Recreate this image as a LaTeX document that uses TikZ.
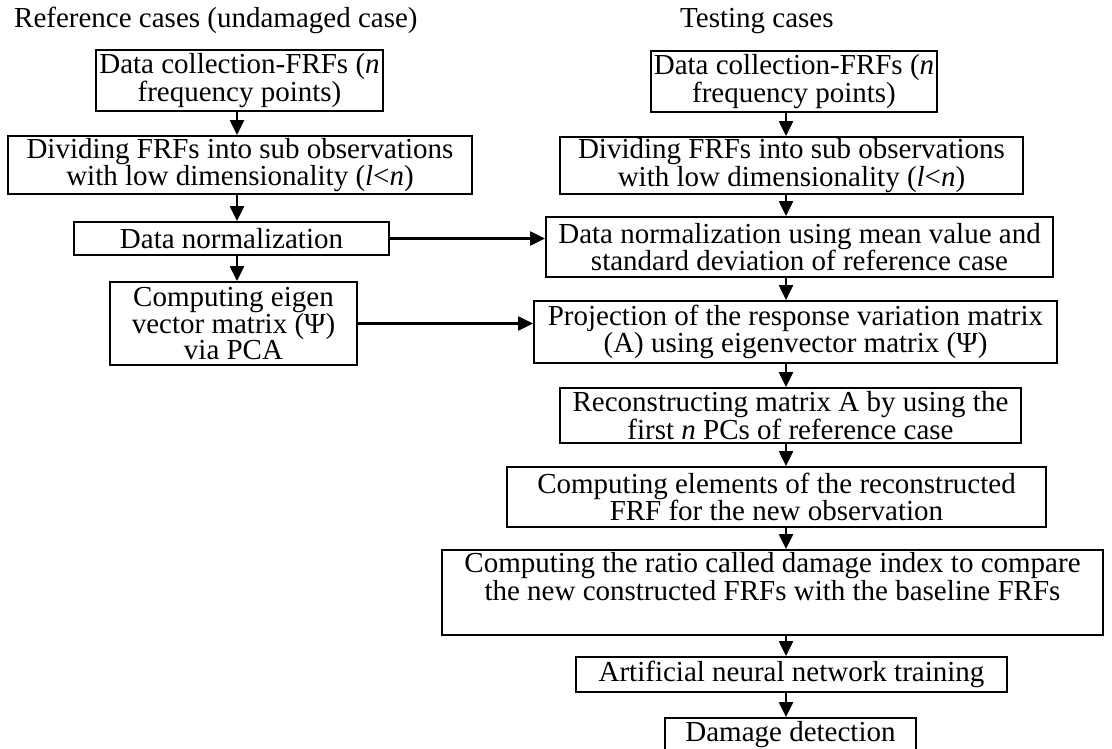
\documentclass[tikz,border=0pt]{standalone}
\usepackage{fontspec}
\setmainfont{Liberation Serif}
\usetikzlibrary{arrows.meta}
\begin{document}
\begin{tikzpicture}[x=1pt,y=-1pt,
  box/.style={draw=black,line width=1.8pt,inner sep=0pt,align=center,
    font=\fontsize{29}{25}\selectfont},
  arr/.style={line width=2.2pt,-{Triangle[length=15pt,width=14pt]}},
  ttl/.style={anchor=base west,inner sep=0pt,font=\fontsize{29}{25}\selectfont}]
\useasboundingbox (0,0) rectangle (1112,749);
% titles
\node[ttl] (t1) at (14,28) {Reference cases (undamaged case)};
\node[ttl] (t2) at (680,28) {Testing cases};
% left column
\node[box,minimum width=287pt,minimum height=61pt] (L1) at (239.5,80.5) {Data collection-FRFs (\textit{n}\\frequency points)};
\node[box,minimum width=464pt,minimum height=58pt] (L2) at (240,165) {Dividing FRFs into sub observations\\with low dimensionality (\textit{l}<\textit{n})};
\node[box,minimum width=315pt,minimum height=33pt] (L3) at (231.5,238.5) {Data normalization};
\node[box,minimum width=247pt,minimum height=83pt] (L4) at (233.5,323.5) {Computing eigen\\vector matrix (Ψ)\\via PCA};
% right column
\node[box,minimum width=286pt,minimum height=61pt] (R1) at (794,81.5) {Data collection-FRFs (\textit{n}\\frequency points)};
\node[box,minimum width=463pt,minimum height=57pt] (R2) at (791.5,165.5) {Dividing FRFs into sub observations\\with low dimensionality (\textit{l}<\textit{n})};
\node[box,minimum width=507pt,minimum height=60pt] (R3) at (799.5,247) {Data normalization using mean value and\\standard deviation of reference case};
\node[box,minimum width=523pt,minimum height=62pt] (R4) at (795.5,332) {Projection of the response variation matrix\\(A) using eigenvector matrix (Ψ)};
\node[box,minimum width=461pt,minimum height=55pt] (R5) at (790.5,415.5) {Reconstructing matrix A by using the\\first \textit{n} PCs of reference case};
\node[box,minimum width=539pt,minimum height=60pt] (R6) at (776.5,497) {Computing elements of the reconstructed\\FRF for the new observation};
\node[box,minimum width=661pt,minimum height=85pt] (R7) at (772.5,592.5) {Computing the ratio called damage index to compare\\the new constructed FRFs with the baseline FRFs\\\strut};
\node[box,minimum width=431pt,minimum height=35pt] (R8) at (791.5,674.5) {Artificial neural network training};
\node[box,minimum width=251pt,minimum height=34pt] (R9) at (790.5,735) {Damage detection};
% arrow columns
\coordinate (lx) at (237,0);
\coordinate (rx) at (786,0);
\draw[arr] (L1.south -| lx) -- (L2.north -| lx);
\draw[arr] (L2.south -| lx) -- (L3.north -| lx);
\draw[arr] (L3.south -| lx) -- (L4.north -| lx);
\draw[arr] (R1.south -| rx) -- (R2.north -| rx);
\draw[arr] (R2.south -| rx) -- (R3.north -| rx);
\draw[arr] (R3.south -| rx) -- (R4.north -| rx);
\draw[arr] (R4.south -| rx) -- (R5.north -| rx);
\draw[arr] (R5.south -| rx) -- (R6.north -| rx);
\draw[arr] (R6.south -| rx) -- (R7.north -| rx);
\draw[arr] (R7.south -| rx) -- (R8.north -| rx);
\draw[arr] (R8.south -| rx) -- (R9.north -| rx);
\draw[arr] (L3.east) -- (L3.east -| R3.west);
\draw[arr] (L4.east) -- (L4.east -| R4.west);
\end{tikzpicture}
\end{document}
